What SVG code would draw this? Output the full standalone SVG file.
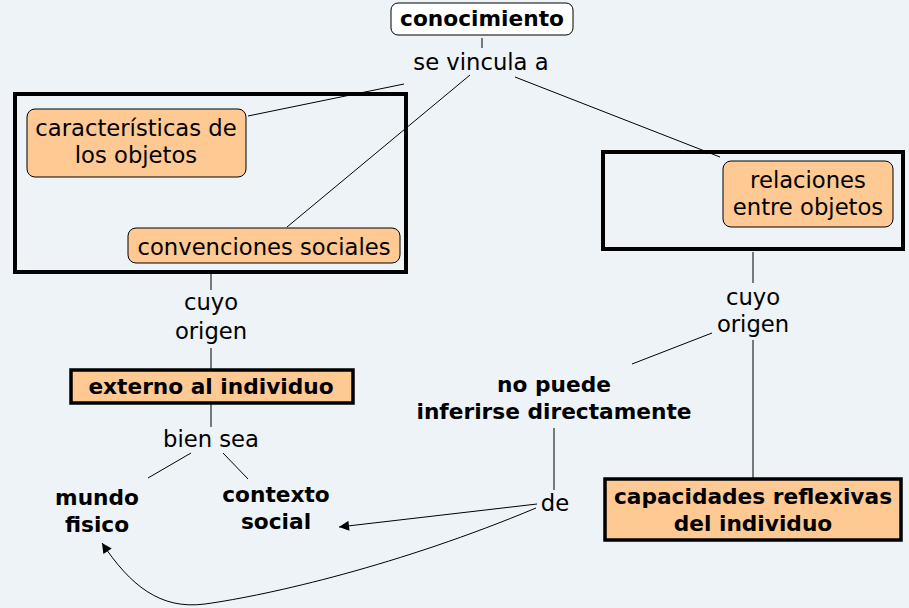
<svg xmlns="http://www.w3.org/2000/svg" width="909" height="608" viewBox="0 0 909 608">
<defs>
<style>
text{font-family:"DejaVu Sans","Noto Sans",sans-serif;font-size:22.7px;fill:#000;text-anchor:middle}
.b{font-weight:bold;font-size:21.7px}
.c{fill:none;stroke:#000;stroke-width:1}
.grp{fill:none;stroke:#000;stroke-width:4}
.n{fill:#FFC993;stroke:#000;stroke-width:1}
.nb{fill:#FFC993;stroke:#000;stroke-width:3.5}
</style>
<marker id="ah" viewBox="0 0 10 10" refX="10" refY="5" markerWidth="12" markerHeight="10" markerUnits="userSpaceOnUse" orient="auto">
<path d="M0,0 L10,5 L0,10 z" fill="#000"/>
</marker>
</defs>
<rect width="909" height="608" fill="#EDF3F6"/>
<g id="groups">
<rect class="grp" x="15" y="94" width="391" height="178"/>
<rect class="grp" x="603" y="152" width="300" height="97"/>
</g>
<g id="connectors">
<line class="c" x1="482" y1="38" x2="482" y2="48"/>
<line class="c" x1="404" y1="84" x2="248" y2="116"/>
<line class="c" x1="470" y1="75" x2="287" y2="227"/>
<line class="c" x1="515" y1="77" x2="720" y2="157"/>
<line class="c" x1="211" y1="274" x2="211" y2="290"/>
<line class="c" x1="211" y1="348" x2="211" y2="370"/>
<line class="c" x1="211" y1="404" x2="211" y2="427"/>
<line class="c" x1="191" y1="453" x2="148" y2="478"/>
<line class="c" x1="223" y1="453" x2="248" y2="479"/>
<line class="c" x1="753" y1="252" x2="753" y2="283"/>
<line class="c" x1="753" y1="340" x2="753" y2="478"/>
<line class="c" x1="712" y1="333" x2="632" y2="364"/>
<line class="c" x1="554" y1="428" x2="554" y2="490"/>
<line class="c" x1="537" y1="504" x2="339" y2="527" marker-end="url(#ah)"/>
<path class="c" d="M536,508 C400,565 270,595 205,604 C160,610 130,585 102,543" marker-end="url(#ah)"/>
</g>
<g id="conocimiento">
<rect x="391" y="3" width="182" height="32" rx="7" fill="#fff" stroke="#000"/>
<text class="b" x="482" y="26">conocimiento</text>
</g>
<g id="se-vincula-a"><text x="481" y="70">se vincula a</text></g>
<g id="caracteristicas">
<rect class="n" x="27" y="109" width="219" height="68" rx="8"/>
<text x="136" y="136">características de</text>
<text x="136" y="163">los objetos</text>
</g>
<g id="convenciones">
<rect class="n" x="128" y="228" width="272" height="35" rx="8"/>
<text x="264" y="255">convenciones sociales</text>
</g>
<g id="relaciones">
<rect class="n" x="723" y="161" width="170" height="66" rx="8"/>
<text x="808" y="188">relaciones</text>
<text x="808" y="215">entre objetos</text>
</g>
<g id="cuyo-origen-1"><text x="211" y="310">cuyo</text><text x="211" y="339">origen</text></g>
<g id="externo">
<rect class="nb" x="71" y="370" width="282" height="33"/>
<text class="b" x="211" y="394">externo al individuo</text>
</g>
<g id="bien-sea"><text x="211" y="447">bien sea</text></g>
<g id="mundo-fisico"><text class="b" x="97" y="505">mundo</text><text class="b" x="97" y="532">fisico</text></g>
<g id="contexto-social"><text class="b" x="276" y="502">contexto</text><text class="b" x="276" y="529">social</text></g>
<g id="cuyo-origen-2"><text x="753" y="305">cuyo</text><text x="753" y="332">origen</text></g>
<g id="no-puede"><text class="b" x="554" y="392">no puede</text><text class="b" x="554" y="419">inferirse directamente</text></g>
<g id="de"><text x="555" y="511">de</text></g>
<g id="capacidades">
<rect class="nb" x="605" y="479" width="296" height="61"/>
<text class="b" x="753" y="504">capacidades reflexivas</text>
<text class="b" x="753" y="531">del individuo</text>
</g>
</svg>
